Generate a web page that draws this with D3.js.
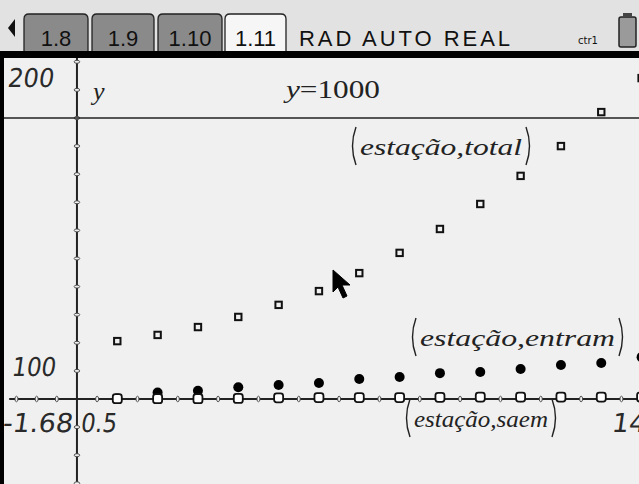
<!DOCTYPE html>
<html>
<head>
<meta charset="utf-8">
<script src="https://cdn.jsdelivr.net/npm/d3@7"></script>
<style>
  html, body { margin: 0; padding: 0; background: #f0f0f0; }
  svg { display: block; }
</style>
</head>
<body>
<svg id="chart" width="639" height="484"></svg>
<script>
// Station-by-station passenger counts
const estacao = [1, 2, 3, 4, 5, 6, 7, 8, 9, 10, 11, 12, 13, 14];
const total   = [206, 228, 256, 292, 335, 384, 448, 520, 605, 694, 794, 900, 1021, 1142];
const entram  = [2, 23, 29, 42, 50, 57, 71, 78, 92, 96, 107, 121, 128, 149];
const saem    = [1, 1, 1, 2, 4, 5, 5, 5, 6, 7, 7, 7, 7, 7];

// Page tabs and status bar text
const tabLabels = ["1.8", "1.9", "1.10", "1.11"];
const activeTab = "1.11";
const statusText = "RAD AUTO REAL";

// Window settings
const xWindow = [-1.68, 14];
const yWindow = [-302.5, 1213.5];
const xStep = 0.5;
const yStep = 100;
const hLine = 1000;

const svg = d3.select("#chart");
const W = 639, H = 484;
const plotTop = 58;

const x = d3.scaleLinear().domain(xWindow).range([9.2, 641.6]);
const y = d3.scaleLinear().domain(yWindow).range([H, plotTop]);

// ---------- header ----------
svg.append("rect").attr("x", 0).attr("y", 0).attr("width", W).attr("height", 52)
  .attr("fill", "#e2e2e2");

// left scroll arrow
svg.append("path").attr("d", "M8,28 L15,19 L15,37 Z").attr("fill", "#111");

const tabSpans = [[24, 88], [92, 154], [158, 222], [225, 286]];
const tabs = svg.append("g");
tabLabels.forEach((t, i) => {
  const [x0, x1] = tabSpans[i];
  const active = t === activeTab;
  tabs.append("path")
    .attr("d", `M${x0},52 L${x0},19 Q${x0},14 ${x0 + 5},14 L${x1 - 5},14 Q${x1},14 ${x1},19 L${x1},52`)
    .attr("fill", active ? "#f6f6f6" : "#8a8a8a")
    .attr("stroke", "#222").attr("stroke-width", 1.3);
  tabs.append("text")
    .attr("x", (x0 + x1) / 2).attr("y", 46)
    .attr("text-anchor", "middle")
    .attr("font-family", "Liberation Sans, Arial, sans-serif")
    .attr("font-size", 22)
    .attr("fill", "#111")
    .text(t);
});

svg.append("text")
  .attr("x", 299).attr("y", 46)
  .attr("font-family", "Liberation Sans, Arial, sans-serif")
  .attr("font-size", 22)
  .attr("textLength", 211).attr("lengthAdjust", "spacing")
  .attr("fill", "#111")
  .text(statusText);

svg.append("text")
  .attr("x", 578).attr("y", 44)
  .attr("font-family", "DejaVu Sans, sans-serif")
  .attr("font-size", 10)
  .attr("fill", "#111")
  .text("ctr1");

// battery
svg.append("rect").attr("x", 619).attr("y", 17).attr("width", 17).attr("height", 30)
  .attr("rx", 2).attr("fill", "#9a9a9a").attr("stroke", "#222").attr("stroke-width", 1.5);
svg.append("rect").attr("x", 623).attr("y", 13).attr("width", 9).attr("height", 4)
  .attr("fill", "#444");

// separator under header
svg.append("rect").attr("x", 0).attr("y", 51).attr("width", W).attr("height", 7).attr("fill", "#000");

// ---------- plot area ----------
const plot = svg.append("g");
plot.append("rect").attr("x", 0).attr("y", plotTop).attr("width", W).attr("height", H - plotTop)
  .attr("fill", "#f0f0f0");

// left frame
plot.append("rect").attr("x", 0).attr("y", plotTop).attr("width", 4).attr("height", H - plotTop)
  .attr("fill", "#000");

// axes
const axisColor = "#222";
plot.append("line")
  .attr("x1", x(xWindow[0])).attr("x2", W)
  .attr("y1", y(0)).attr("y2", y(0))
  .attr("stroke", axisColor).attr("stroke-width", 2);
plot.append("line")
  .attr("x1", x(0)).attr("x2", x(0))
  .attr("y1", plotTop).attr("y2", H)
  .attr("stroke", axisColor).attr("stroke-width", 2);

// tick marks
const xTicks = d3.range(Math.ceil(xWindow[0] / xStep) * xStep, xWindow[1] + 1e-9, xStep)
  .filter(v => Math.abs(v) > 1e-9);
const yTicks = d3.range(Math.ceil(yWindow[0] / yStep) * yStep, yWindow[1] + 1e-9, yStep)
  .filter(v => Math.abs(v) > 1e-9);

plot.append("g").selectAll("ellipse").data(xTicks).join("ellipse")
  .attr("cx", d => x(d)).attr("cy", y(0))
  .attr("rx", 1.5).attr("ry", 2.8)
  .attr("fill", "#f0f0f0").attr("stroke", "#444").attr("stroke-width", 0.9);

plot.append("g").selectAll("ellipse").data(yTicks).join("ellipse")
  .attr("cx", x(0)).attr("cy", d => y(d))
  .attr("rx", 2.8).attr("ry", 1.5)
  .attr("fill", "#f0f0f0").attr("stroke", "#444").attr("stroke-width", 0.9);

// horizontal function graph y = 1000
plot.append("line")
  .attr("x1", 4).attr("x2", W)
  .attr("y1", y(hLine)).attr("y2", y(hLine))
  .attr("stroke", "#222").attr("stroke-width", 1.6);

// window labels
const numFont = "DejaVu Sans, sans-serif";
function numLabel(tx, ty, str, len) {
  plot.append("text")
    .attr("x", tx).attr("y", ty)
    .attr("font-family", numFont)
    .attr("font-size", 26)
    .attr("transform", `skewX(-8) translate(${ty * Math.tan(8 * Math.PI / 180)},0)`)
    .attr("textLength", len).attr("lengthAdjust", "spacingAndGlyphs")
    .attr("fill", "#2a2a2a")
    .text(str);
}
numLabel(7, 87, "200", 46);
numLabel(11, 376, "100", 44);
numLabel(2, 432, "-1.68", 70);
numLabel(80, 432, "0.5", 36);
numLabel(611, 432, "14", 34);

// axis / function labels
const mathFont = "Liberation Serif, Times New Roman, serif";
plot.append("text")
  .attr("x", 93).attr("y", 100)
  .attr("font-family", mathFont).attr("font-style", "italic")
  .attr("font-size", 26).attr("fill", "#222")
  .text("y");
plot.append("text")
  .attr("x", 286).attr("y", 98)
  .attr("font-family", mathFont)
  .attr("font-size", 26).attr("fill", "#222")
  .attr("textLength", 94).attr("lengthAdjust", "spacingAndGlyphs")
  .html('<tspan font-style="italic">y</tspan>=1000');

// series labels with tall thin brackets
function seriesLabel(x0, x1, base, str) {
  const g = plot.append("g");
  const top = base - 28, bot = base + 10, mid = (top + bot) / 2;
  g.append("path")
    .attr("d", `M${x0 + 5},${top} Q${x0 - 2},${mid} ${x0 + 5},${bot}`)
    .attr("fill", "none").attr("stroke", "#222").attr("stroke-width", 1.4);
  g.append("path")
    .attr("d", `M${x1 - 5},${top} Q${x1 + 2},${mid} ${x1 - 5},${bot}`)
    .attr("fill", "none").attr("stroke", "#222").attr("stroke-width", 1.4);
  g.append("text")
    .attr("x", x0 + 9).attr("y", base)
    .attr("font-family", mathFont).attr("font-style", "italic")
    .attr("font-size", 24).attr("fill", "#222")
    .attr("textLength", (x1 - x0) - 18).attr("lengthAdjust", "spacingAndGlyphs")
    .text(str);
}
seriesLabel(351, 531, 155, "estação,total");
seriesLabel(411, 624, 346, "estação,entram");
seriesLabel(405, 557, 427, "estação,saem");

// ---------- data marks ----------
const marks = plot.append("g");

// total: small hollow squares
marks.append("g").selectAll("rect").data(estacao).join("rect")
  .attr("x", (d, i) => x(d) - 3.2).attr("y", (d, i) => y(total[i]) - 3.2)
  .attr("width", 6.4).attr("height", 6.4)
  .attr("fill", "#f0f0f0").attr("stroke", "#111").attr("stroke-width", 2);

// entram: filled dots
marks.append("g").selectAll("circle").data(estacao).join("circle")
  .attr("cx", d => x(d)).attr("cy", (d, i) => y(entram[i]))
  .attr("r", 5).attr("fill", "#000");

// saem: open rounded squares
marks.append("g").selectAll("rect").data(estacao).join("rect")
  .attr("x", d => x(d) - 4.5).attr("y", (d, i) => y(saem[i]) - 4.5)
  .attr("width", 9).attr("height", 9).attr("rx", 2.5)
  .attr("fill", "#fff").attr("stroke", "#111").attr("stroke-width", 1.8);

// pointer cursor
svg.append("path")
  .attr("d", "M333,270 L333,292 L338,287 L343,298 L347,296 L342,285 L350,285 Z")
  .attr("fill", "#000").attr("stroke", "#000").attr("stroke-width", 1);
</script>
</body>
</html>
